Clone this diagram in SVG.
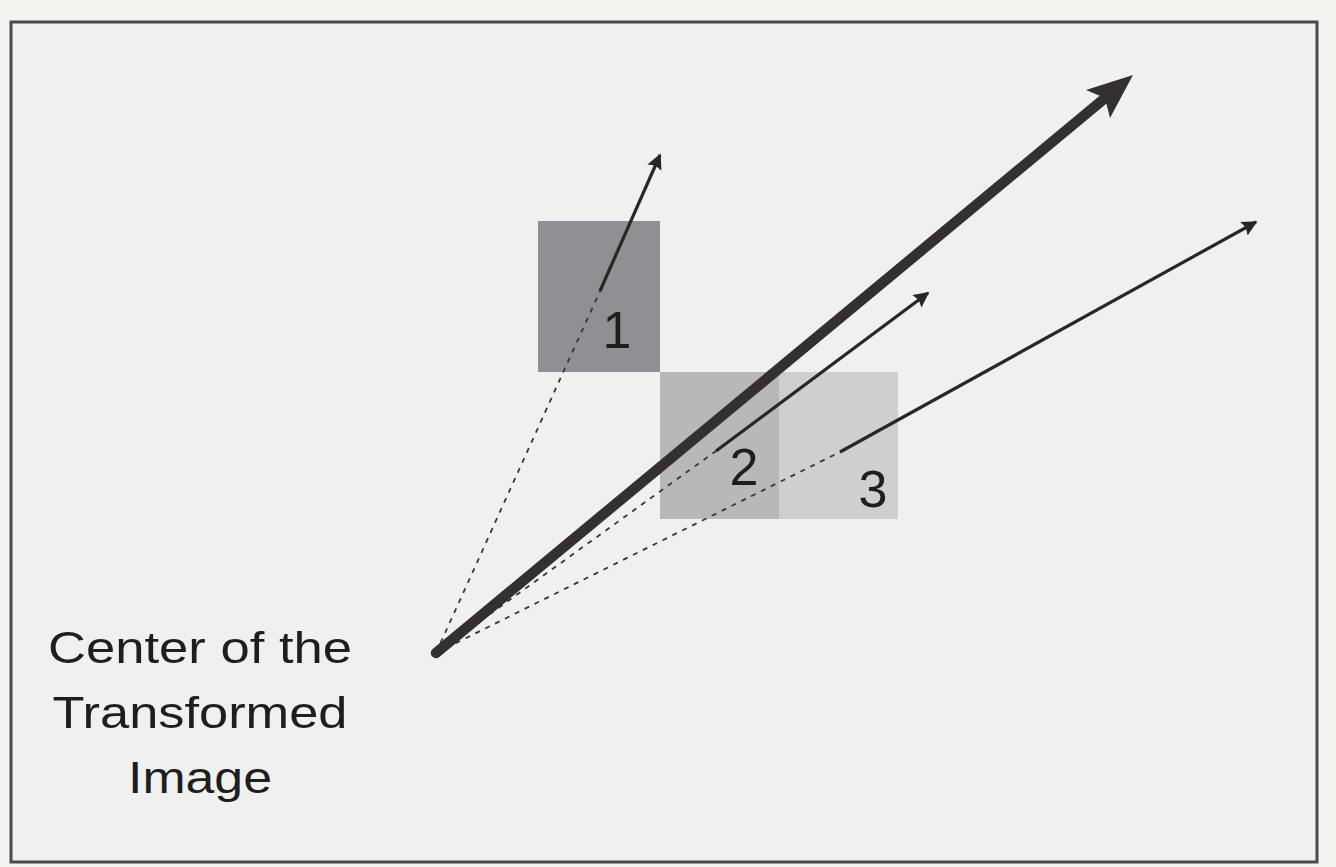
<svg xmlns="http://www.w3.org/2000/svg" width="1336" height="867" viewBox="0 0 1336 867">
<style>
.lbl{font-family:"Liberation Sans",Arial,sans-serif;fill:#1e1e1e}
.thin{stroke:#2a2526;stroke-width:3.2;fill:none}
.dash{stroke:#3a3636;stroke-width:1.8;stroke-dasharray:5 6;fill:none}
</style>
<defs>
<marker id="ah" viewBox="0 0 10 10" refX="9" refY="5" markerWidth="6" markerHeight="4.8" markerUnits="strokeWidth" orient="auto">
<path d="M0,0 L10,5 L0,10 L1.5,5 z" fill="#2a2526"/>
</marker>
</defs>
<rect width="1336" height="867" fill="#f4f3ef"/>
<rect id="frame" x="11" y="22" width="1306" height="840" fill="#f0f0ee" stroke="#4a4a4a" stroke-width="3"/>
<g id="sq1"><rect x="538" y="221" width="122" height="151" fill="#908f93"/><text class="lbl" x="617" y="348" font-size="52" text-anchor="middle">1</text></g>
<g id="sq2"><rect x="660" y="372" width="119" height="147" fill="#b8b8b8"/><text class="lbl" x="744" y="485" font-size="52" text-anchor="middle">2</text></g>
<g id="sq3"><rect x="779" y="372" width="119" height="147" fill="#cfcfcf"/><text class="lbl" x="873" y="507" font-size="52" text-anchor="middle">3</text></g>
<g id="connectors">
<path class="dash" d="M436,653 L600,291"/>
<path class="dash" d="M436,653 L716,451"/>
<path class="dash" d="M436,653 L840,452"/>
<path class="thin" d="M600,291 L660,155" marker-end="url(#ah)"/>
<path class="thin" d="M716,451 L928,293" marker-end="url(#ah)"/>
<path class="thin" d="M840,452 L1256,222" marker-end="url(#ah)"/>
<path d="M436,653 L1106,97.3" stroke="#343031" stroke-width="10.5" stroke-linecap="round" fill="none"/>
<polygon points="1133,75 1110,118 1105,98 1086,90" fill="#343031"/>
</g>
<g id="center-label">
<text class="lbl" font-size="44" x="200" y="663" text-anchor="middle" textLength="304" lengthAdjust="spacingAndGlyphs">Center of the</text>
<text class="lbl" font-size="44" x="200" y="728" text-anchor="middle" textLength="295" lengthAdjust="spacingAndGlyphs">Transformed</text>
<text class="lbl" font-size="44" x="200" y="793" text-anchor="middle" textLength="144" lengthAdjust="spacingAndGlyphs">Image</text>
</g>
</svg>
